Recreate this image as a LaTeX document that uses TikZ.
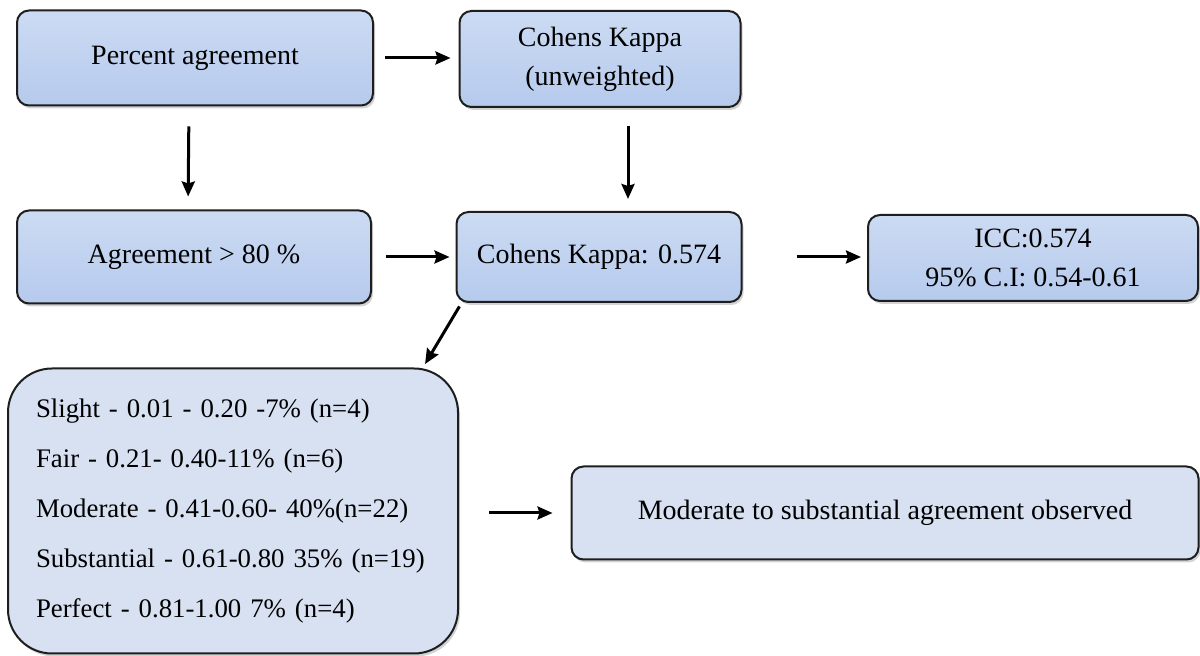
\documentclass[tikz,border=0pt]{standalone}
\usepackage{fontspec}
\setmainfont{Liberation Serif}
\usetikzlibrary{positioning,arrows.meta,shadows}

\definecolor{boxtop}{HTML}{CCDBF3}
\definecolor{boxbot}{HTML}{B6CAED}
\definecolor{boxlight}{HTML}{D7E1F2}
\definecolor{boxline}{HTML}{1E1E1E}

\tikzset{
  stage/.style={draw=boxline, line width=1pt, rounded corners=6pt,
    top color=boxtop, bottom color=boxbot, align=center, inner sep=0pt,
    font=\fontsize{14pt}{19.5pt}\selectfont,
    drop shadow={shadow xshift=1pt, shadow yshift=-1.5pt, opacity=0.35}},
  result/.style={stage, fill=boxlight, top color=boxlight, bottom color=boxlight},
  flow/.style={line width=1.5pt, -{Stealth[length=7.5pt, width=6.5pt, inset=1pt]}}
}

\begin{document}
\begin{tikzpicture}[x=0.5pt, y=-0.5pt]
  \useasboundingbox (0,0) rectangle (1200,656);

  \node[stage, minimum width=178pt, minimum height=47.5pt] (m-1-1) at (195,58) {Percent agreement};
  \node[stage, minimum width=140.5pt, minimum height=48pt] (m-1-2) at (600,59) {Cohens Kappa\\(unweighted)};
  \node[stage, minimum width=177pt, minimum height=46.5pt] (m-2-1) at (194,257) {Agreement > 80 \%};
  \node[stage, minimum width=142.5pt, minimum height=45pt] (m-2-2) at (599,257) {Cohens Kappa: 0.574};
  \node[stage, minimum width=165pt, minimum height=43pt] (m-2-3) at (1033,258) {ICC:0.574\\95\% C.I: 0.54-0.61};
  \node[result, rounded corners=22pt, minimum width=225pt, minimum height=142.5pt,
        text width=197pt, inner xsep=14pt, align=left,
        font=\fontsize{13.4pt}{25pt}\selectfont] (m-3-1) at (233,511)
    {Slight - 0.01 - 0.20 -7\% (n=4)\\
     Fair - 0.21- 0.40-11\% (n=6)\\
     Moderate - 0.41-0.60- 40\%(n=22)\\
     Substantial - 0.61-0.80 35\% (n=19)\\
     Perfect - 0.81-1.00 7\% (n=4)};
  \node[result, minimum width=313.5pt, minimum height=46.5pt] (m-3-2) at (885,513) {Moderate to substantial agreement observed};

  \path[flow]
  (m-1-1.east) edge[shorten <=5.5pt, shorten >=4pt] (m-1-2.west |- m-1-1.east);
  \path[flow]
  ([xshift=-3pt]m-1-1.south) edge[shorten <=10pt, shorten >=6.5pt] ([xshift=-3pt]m-2-1.north);
  \path[flow]
  ([xshift=14pt]m-1-2.south) edge[shorten <=9pt, shorten >=6pt] ([xshift=14.5pt]m-2-2.north);
  \path[flow]
  (m-2-1.east) edge[shorten <=7pt, shorten >=3pt] (m-2-2.west);
  \path[flow]
  (m-2-2.east) edge[shorten <=27pt, shorten >=3pt] (m-2-3.west |- m-2-2.east);
  \path[flow]
  ([xshift=3pt]m-2-2.south west) edge[shorten <=2pt, shorten >=2pt] ([xshift=-18pt]m-3-1.north east);
  \path[flow]
  (m-3-1.east |- m-3-2.west) edge[shorten <=15pt, shorten >=9pt] (m-3-2.west);
\end{tikzpicture}
\end{document}
